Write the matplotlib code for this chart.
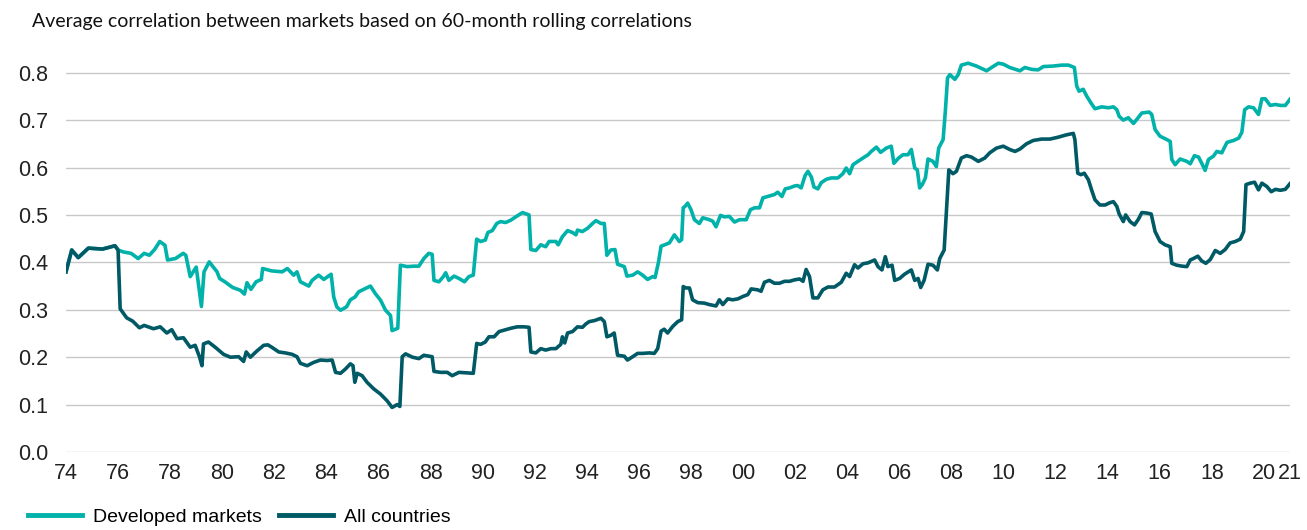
import numpy as np
import matplotlib
matplotlib.use("Agg")
import matplotlib.pyplot as plt

title = "Average correlation between markets based on 60-month rolling correlations"
series_names = ["Developed markets", "All countries"]

dev_years = [1974.0, 1974.22, 1974.47, 1974.86, 1975.4, 1975.88, 1976.0, 1976.2, 1976.5, 1976.77,
             1977.0, 1977.2, 1977.4, 1977.6, 1977.8, 1977.9, 1978.2, 1978.5, 1978.6, 1978.77,
             1979.0, 1979.1, 1979.2, 1979.3, 1979.5, 1979.8, 1979.9, 1980.1, 1980.4, 1980.7,
             1980.85, 1980.95, 1981.1, 1981.3, 1981.5, 1981.55, 1981.9, 1982.3, 1982.5, 1982.74,
             1982.87, 1983.0, 1983.32, 1983.45, 1983.7, 1983.9, 1984.18, 1984.28, 1984.4, 1984.54,
             1984.77, 1984.92, 1985.1, 1985.24, 1985.5, 1985.69, 1985.88, 1986.08, 1986.27, 1986.46,
             1986.52, 1986.74, 1986.84, 1987.1, 1987.36, 1987.55, 1987.74, 1987.93, 1988.06, 1988.13,
             1988.32, 1988.49, 1988.58, 1988.7, 1988.9, 1989.09, 1989.3, 1989.47, 1989.64, 1989.77,
             1989.92, 1990.1, 1990.2, 1990.37, 1990.54, 1990.69, 1990.88, 1991.08, 1991.27, 1991.53,
             1991.78, 1991.85, 1992.04, 1992.23, 1992.42, 1992.55, 1992.81, 1992.9, 1993.06, 1993.26,
             1993.45, 1993.58, 1993.64, 1993.83, 1994.03, 1994.22, 1994.35, 1994.54, 1994.67, 1994.77,
             1994.92, 1995.08, 1995.18, 1995.44, 1995.54, 1995.76, 1995.95, 1996.14, 1996.33, 1996.53,
             1996.62, 1996.75, 1996.85, 1997.17, 1997.36, 1997.55, 1997.64, 1997.7, 1997.77, 1997.87,
             1998.0, 1998.13, 1998.32, 1998.45, 1998.7, 1998.83, 1998.96, 1999.13, 1999.28, 1999.47,
             1999.67, 1999.86, 2000.12, 2000.28, 2000.44, 2000.63, 2000.76, 2000.95, 2001.2, 2001.33,
             2001.49, 2001.62, 2001.78, 2001.97, 2002.1, 2002.23, 2002.38, 2002.49, 2002.62, 2002.72,
             2002.87, 2003.0, 2003.19, 2003.38, 2003.64, 2003.83, 2003.96, 2004.09, 2004.22, 2004.41,
             2004.6, 2004.8, 2004.92, 2005.12, 2005.28, 2005.5, 2005.69, 2005.79, 2005.97, 2006.14,
             2006.33, 2006.46, 2006.59, 2006.69, 2006.78, 2006.88, 2007.0, 2007.1, 2007.29, 2007.42,
             2007.51, 2007.68, 2007.77, 2007.85, 2007.94, 2008.13, 2008.26, 2008.38, 2008.64, 2008.96,
             2009.35, 2009.54, 2009.8, 2009.99, 2010.24, 2010.63, 2010.82, 2011.08, 2011.33, 2011.53,
             2011.91, 2012.23, 2012.49, 2012.72, 2012.81, 2012.9, 2013.06, 2013.19, 2013.36, 2013.51,
             2013.77, 2014.02, 2014.22, 2014.35, 2014.44, 2014.6, 2014.79, 2014.99, 2015.11, 2015.31,
             2015.59, 2015.69, 2015.82, 2016.01, 2016.27, 2016.4, 2016.46, 2016.59, 2016.78, 2017.04,
             2017.17, 2017.33, 2017.49, 2017.61, 2017.74, 2017.87, 2018.06, 2018.19, 2018.38, 2018.58,
             2018.83, 2019.03, 2019.15, 2019.26, 2019.41, 2019.6, 2019.79, 2019.92, 2020.05, 2020.24,
             2020.44, 2020.63, 2020.82, 2021.0]
dev_vals = [0.38, 0.426, 0.41, 0.43, 0.428, 0.435, 0.426, 0.422, 0.419, 0.408,
            0.419, 0.415, 0.427, 0.444, 0.436, 0.405, 0.408, 0.419, 0.415, 0.37,
            0.39, 0.348, 0.307, 0.38, 0.401, 0.38, 0.366, 0.359, 0.347, 0.341,
            0.333, 0.357, 0.343, 0.359, 0.364, 0.387, 0.382, 0.38, 0.387, 0.373,
            0.38, 0.359, 0.35, 0.362, 0.373, 0.364, 0.375, 0.327, 0.306, 0.299,
            0.306, 0.321, 0.327, 0.338, 0.345, 0.35, 0.334, 0.32, 0.299, 0.288,
            0.256, 0.261, 0.394, 0.391, 0.392, 0.392, 0.408, 0.419, 0.417, 0.362,
            0.359, 0.37, 0.378, 0.362, 0.371, 0.366, 0.359, 0.37, 0.373, 0.449,
            0.444, 0.447, 0.463, 0.467, 0.482, 0.486, 0.484, 0.489, 0.496, 0.505,
            0.5, 0.427, 0.425, 0.437, 0.433, 0.444, 0.444, 0.437, 0.454, 0.467,
            0.463, 0.458, 0.468, 0.465, 0.472, 0.482, 0.488, 0.482, 0.482, 0.415,
            0.426, 0.427, 0.396, 0.391, 0.371, 0.373, 0.38, 0.373, 0.364, 0.37,
            0.368, 0.40, 0.434, 0.441, 0.458, 0.444, 0.448, 0.515, 0.518, 0.525,
            0.511, 0.49, 0.482, 0.494, 0.49, 0.487, 0.475, 0.499, 0.496, 0.497,
            0.485, 0.49, 0.49, 0.511, 0.515, 0.515, 0.536, 0.539, 0.543, 0.548,
            0.539, 0.555, 0.557, 0.561, 0.562, 0.557, 0.583, 0.592, 0.58, 0.559,
            0.555, 0.568, 0.575, 0.578, 0.578, 0.587, 0.599, 0.587, 0.606, 0.613,
            0.62, 0.627, 0.634, 0.643, 0.632, 0.641, 0.645, 0.609, 0.62, 0.627,
            0.627, 0.638, 0.599, 0.595, 0.557, 0.564, 0.578, 0.618, 0.613, 0.602,
            0.641, 0.659, 0.722, 0.789, 0.796, 0.786, 0.796, 0.816, 0.82, 0.814,
            0.804, 0.811, 0.82, 0.818, 0.811, 0.804, 0.811, 0.807, 0.806, 0.813,
            0.814, 0.816, 0.816, 0.811, 0.772, 0.761, 0.765, 0.751, 0.736, 0.724,
            0.728, 0.726, 0.728, 0.722, 0.708, 0.7, 0.705, 0.693, 0.701, 0.715,
            0.717, 0.712, 0.68, 0.666, 0.659, 0.655, 0.617, 0.606, 0.618, 0.613,
            0.608, 0.625, 0.622, 0.609, 0.594, 0.617, 0.624, 0.634, 0.631, 0.653,
            0.657, 0.662, 0.674, 0.722, 0.728, 0.726, 0.712, 0.745, 0.745, 0.731,
            0.733, 0.731, 0.731, 0.744]

all_years = [1974.0, 1974.22, 1974.47, 1974.86, 1975.4, 1975.88, 1976.0, 1976.08, 1976.33, 1976.56,
             1976.82, 1977.0, 1977.36, 1977.62, 1977.87, 1978.06, 1978.26, 1978.51, 1978.77, 1978.96,
             1979.13, 1979.22, 1979.28, 1979.47, 1979.73, 1980.05, 1980.31, 1980.63, 1980.82, 1980.92,
             1981.08, 1981.33, 1981.59, 1981.75, 1981.9, 1982.17, 1982.42, 1982.68, 1982.87, 1983.0,
             1983.26, 1983.51, 1983.77, 1984.02, 1984.22, 1984.35, 1984.54, 1984.73, 1984.92, 1985.02,
             1985.09, 1985.18, 1985.37, 1985.56, 1985.82, 1986.08, 1986.33, 1986.52, 1986.72, 1986.82,
             1986.91, 1987.04, 1987.3, 1987.55, 1987.74, 1988.06, 1988.13, 1988.38, 1988.64, 1988.83,
             1989.09, 1989.64, 1989.77, 1989.92, 1990.1, 1990.24, 1990.44, 1990.63, 1990.82, 1991.08,
             1991.33, 1991.59, 1991.78, 1991.85, 1992.04, 1992.23, 1992.42, 1992.62, 1992.81, 1993.0,
             1993.06, 1993.15, 1993.26, 1993.45, 1993.64, 1993.83, 1993.96, 1994.09, 1994.28, 1994.54,
             1994.67, 1994.77, 1994.92, 1995.05, 1995.18, 1995.44, 1995.56, 1995.76, 1995.95, 1996.14,
             1996.4, 1996.59, 1996.72, 1996.85, 1996.97, 1997.1, 1997.3, 1997.49, 1997.64, 1997.7,
             1997.8, 1997.94, 1998.06, 1998.26, 1998.51, 1998.7, 1998.96, 1999.09, 1999.22, 1999.41,
             1999.6, 1999.8, 1999.99, 2000.18, 2000.31, 2000.56, 2000.69, 2000.82, 2001.01, 2001.2,
             2001.4, 2001.59, 2001.78, 2001.97, 2002.17, 2002.3, 2002.42, 2002.55, 2002.68, 2002.87,
             2003.06, 2003.26, 2003.51, 2003.77, 2003.96, 2004.09, 2004.28, 2004.41, 2004.6, 2004.8,
             2005.05, 2005.18, 2005.33, 2005.46, 2005.56, 2005.72, 2005.82, 2006.01, 2006.2, 2006.46,
             2006.59, 2006.72, 2006.82, 2006.95, 2007.1, 2007.29, 2007.46, 2007.55, 2007.72, 2007.81,
             2007.9, 2008.06, 2008.19, 2008.38, 2008.58, 2008.77, 2009.03, 2009.28, 2009.47, 2009.73,
             2009.99, 2010.24, 2010.44, 2010.63, 2010.88, 2011.14, 2011.46, 2011.78, 2012.1, 2012.42,
             2012.68, 2012.74, 2012.85, 2012.97, 2013.1, 2013.26, 2013.38, 2013.51, 2013.7, 2013.9,
             2014.09, 2014.22, 2014.35, 2014.44, 2014.6, 2014.69, 2014.86, 2015.03, 2015.18, 2015.31,
             2015.5, 2015.67, 2015.82, 2016.01, 2016.2, 2016.4, 2016.46, 2016.65, 2016.85, 2017.04,
             2017.17, 2017.29, 2017.46, 2017.61, 2017.77, 2017.94, 2018.13, 2018.32, 2018.51, 2018.7,
             2018.9, 2019.09, 2019.22, 2019.31, 2019.47, 2019.64, 2019.79, 2019.92, 2020.11, 2020.28,
             2020.44, 2020.63, 2020.82, 2021.0]
all_vals = [0.38, 0.426, 0.41, 0.43, 0.428, 0.435, 0.426, 0.302, 0.283, 0.276,
            0.262, 0.267, 0.26, 0.264, 0.251, 0.258, 0.239, 0.241, 0.221, 0.225,
            0.2, 0.182, 0.228, 0.232, 0.221, 0.206, 0.2, 0.201, 0.191, 0.211,
            0.2, 0.213, 0.225, 0.226, 0.221, 0.211, 0.209, 0.206, 0.201, 0.187,
            0.182, 0.189, 0.194, 0.193, 0.194, 0.168, 0.166, 0.175, 0.186, 0.182,
            0.147, 0.166, 0.161, 0.147, 0.133, 0.122, 0.108, 0.094, 0.1, 0.096,
            0.201, 0.207, 0.2, 0.197, 0.204, 0.201, 0.17, 0.168, 0.168, 0.161,
            0.168, 0.166, 0.229, 0.227, 0.232, 0.243, 0.243, 0.254, 0.257, 0.261,
            0.264, 0.264, 0.263, 0.211, 0.209, 0.218, 0.215, 0.218, 0.218, 0.227,
            0.243, 0.23, 0.251, 0.254, 0.264, 0.263, 0.27, 0.275, 0.277, 0.282,
            0.275, 0.243, 0.246, 0.251, 0.204, 0.202, 0.194, 0.201, 0.208, 0.208,
            0.209, 0.208, 0.218, 0.255, 0.259, 0.251, 0.265, 0.275, 0.279, 0.349,
            0.346, 0.346, 0.321, 0.315, 0.314, 0.311, 0.308, 0.321, 0.311, 0.323,
            0.321, 0.323, 0.328, 0.332, 0.344, 0.342, 0.339, 0.358, 0.362, 0.356,
            0.356, 0.36, 0.36, 0.363, 0.365, 0.36, 0.385, 0.37, 0.325, 0.325,
            0.342, 0.348, 0.348, 0.358, 0.377, 0.37, 0.395, 0.388, 0.397, 0.399,
            0.405, 0.391, 0.384, 0.412, 0.391, 0.394, 0.362, 0.366, 0.375, 0.384,
            0.362, 0.366, 0.347, 0.362, 0.396, 0.394, 0.384, 0.408, 0.426, 0.511,
            0.595, 0.587, 0.592, 0.62, 0.625, 0.622, 0.613, 0.62, 0.631, 0.641,
            0.645, 0.638, 0.634, 0.639, 0.65, 0.657, 0.66, 0.66, 0.664, 0.669,
            0.672, 0.659, 0.588, 0.585, 0.588, 0.574, 0.553, 0.532, 0.521, 0.521,
            0.526, 0.528, 0.518, 0.502, 0.486, 0.5, 0.486, 0.479, 0.491, 0.505,
            0.504, 0.502, 0.465, 0.444, 0.437, 0.433, 0.398, 0.394, 0.392, 0.391,
            0.405, 0.408, 0.413, 0.403, 0.398, 0.406, 0.425, 0.419, 0.427, 0.441,
            0.444, 0.449, 0.465, 0.564, 0.567, 0.569, 0.553, 0.567, 0.56, 0.549,
            0.554, 0.552, 0.554, 0.566]

tick_years = list(range(1974, 2021, 2)) + [2021]
tick_labels = [str(y)[2:] for y in tick_years]
y_ticks = [0.0, 0.1, 0.2, 0.3, 0.4, 0.5, 0.6, 0.7, 0.8]

teal = "#00b2a9"
dark = "#005a66"

W, H = 1307, 530
fig = plt.figure(figsize=(W / 100, H / 100), dpi=100)
# axes placement in pixels: x from 66 to 1290, y=0 at 452 px, y=0.85 at ~49 px
ymax = 0.85
ax = fig.add_axes([66 / W, (H - 452) / H, (1290 - 66) / W, (452 - 49) / H])

ax.plot(dev_years, dev_vals, color=teal, lw=2.6, solid_joinstyle="round", label=series_names[0])
ax.plot(all_years, all_vals, color=dark, lw=2.6, solid_joinstyle="round", label=series_names[1])

ax.set_xlim(1974, 2021)
ax.set_ylim(0, ymax)
ax.set_yticks(y_ticks)
ax.set_yticklabels([f"{v:.1f}" for v in y_ticks])
ax.set_xticks(tick_years)
ax.set_xticklabels(tick_labels)
ax.grid(axis="y", color="#c8c8c8", lw=1.0)
ax.set_axisbelow(True)
for s in ax.spines.values():
    s.set_visible(False)
ax.tick_params(axis="both", length=0, labelsize=15.5, colors="#222222")
ax.tick_params(axis="y", pad=13)
ax.tick_params(axis="x", pad=8)
for lab in ax.get_xticklabels() + ax.get_yticklabels():
    lab.set_family("Liberation Sans")

fig.text(32 / W, 1 - 22 / H, title, fontsize=14, family="Lato", color="#111111", va="center", ha="left")

leg = fig.legend(loc="lower left", bbox_to_anchor=(10 / W, -0.026), ncol=2, frameon=False,
                 prop={"family": "Liberation Sans", "size": 14}, handlelength=2.8,
                 handletextpad=0.55, columnspacing=0.9)
for line in leg.get_lines():
    line.set_linewidth(3.5)

fig.savefig("out.png", dpi=100)
